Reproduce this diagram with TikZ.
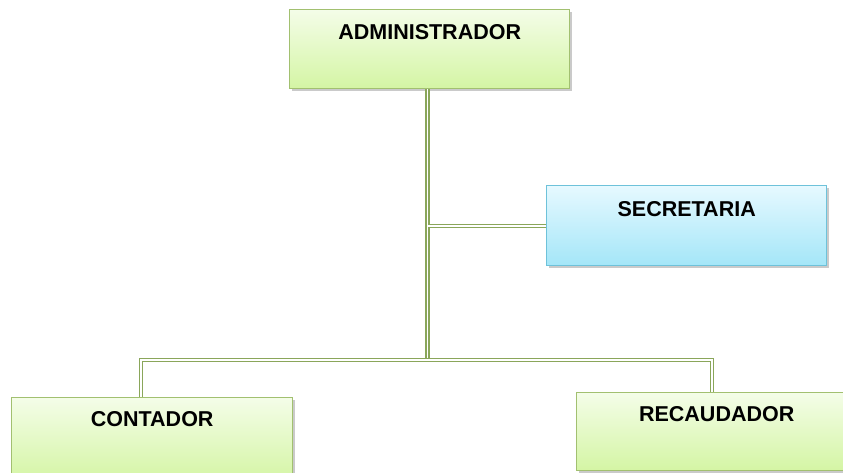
\documentclass[tikz,border=0pt]{standalone}
\usepackage{fontspec}
\setmainfont{Liberation Sans}
\usetikzlibrary{shadows}
\definecolor{gtop}{HTML}{F4FDE8}
\definecolor{gbot}{HTML}{D4F5A4}
\definecolor{gbord}{HTML}{A2C070}
\definecolor{btop}{HTML}{E6F9FF}
\definecolor{bbot}{HTML}{A4E6F8}
\definecolor{bbord}{HTML}{6EC2DA}
\definecolor{conncol}{HTML}{8AA65A}
\tikzset{
  box/.style={draw=gbord, line width=1.4pt, top color=gtop, bottom color=gbot,
    minimum width=280pt, inner sep=0pt, anchor=north west,
    font=\fontsize{21.5}{25}\selectfont\bfseries,
    drop shadow={shadow xshift=2pt, shadow yshift=-2.5pt, opacity=0.35, fill=black!60}},
  bluebox/.style={box, draw=bbord, top color=btop, bottom color=bbot},
  conn/.style={draw=conncol, line width=1.4pt, double=white, double distance=1.6pt}
}
\begin{document}
\begin{tikzpicture}[x=1pt,y=-1pt]
\useasboundingbox (0,0) rectangle (843,473);
\node[box, text height=30pt, text depth=49pt] (admin) at (289,9) {ADMINISTRADOR};
\node[bluebox, text height=31pt, text depth=49pt] (secr) at (546,185) {SECRETARIA};
\node[box, minimum width=281pt, text height=29pt, text depth=55pt] (cont) at (11,397) {CONTADOR};
\node[box, text height=29pt, text depth=49pt] (recau) at (576,392) {RECAUDADOR};
\coordinate (hub) at (427.5,360);
\draw[conn] (admin.south -| hub) -- (hub);
\draw[conn] (secr.west) -- (secr.west -| hub);
\draw[conn] ([xshift=-11.5pt]cont.north) |- (hub) -| ([xshift=-4.5pt]recau.north);
\end{tikzpicture}
\end{document}
